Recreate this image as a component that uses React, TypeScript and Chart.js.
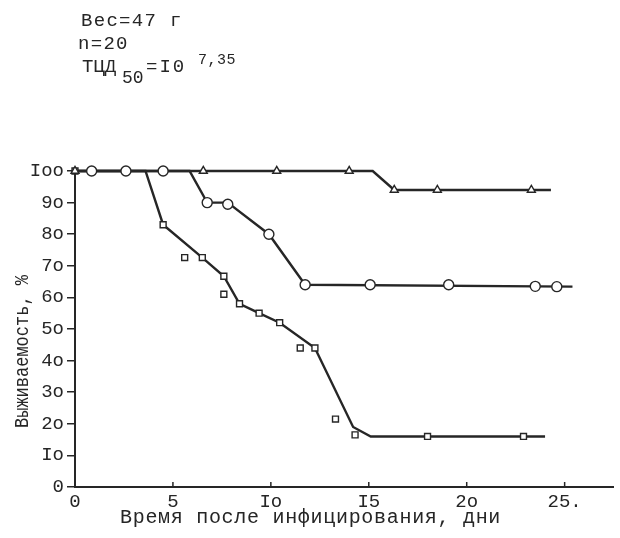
import React, { useEffect, useRef } from "react";
import { Chart, registerables } from "chart.js";
Chart.register(...registerables);

// Fitted survival curves (line vertices): x = days, y = survival %
const triLineX = [0, 15.2, 16.3, 24.3];
const triLineY = [100, 100, 94, 94];
const circLineX = [0, 5.85, 6.75, 7.8, 9.9, 11.75, 25.4];
const circLineY = [100, 100, 90, 90, 80, 64, 63.4];
const sqLineX = [0, 3.6, 4.5, 6.5, 7.6, 8.4, 9.4, 10.45, 12.25, 14.2, 15.1, 24.0];
const sqLineY = [100, 100, 83, 72.6, 66.7, 58, 55, 52, 44, 19, 16, 16];

// Observed points (markers)
const triPtX = [0, 6.55, 10.3, 14.0, 16.3, 18.5, 23.3];
const triPtY = [100, 100, 100, 100, 94, 94, 94];
const circPtX = [0.85, 2.6, 4.5, 6.75, 7.8, 9.9, 11.75, 15.07, 19.08, 23.5, 24.6];
const circPtY = [100, 100, 100, 90, 89.5, 80, 64, 64, 64, 63.5, 63.4];
const sqPtX = [0, 2.6, 4.5, 5.6, 6.5, 7.6, 7.6, 8.4, 9.4, 10.45, 11.5, 12.25, 13.3, 14.3, 18.0, 22.9];
const sqPtY = [100, 100, 83, 72.6, 72.6, 66.7, 61, 58, 55, 52, 44, 44, 21.5, 16.5, 16, 16];

const xTicks = [0, 5, 10, 15, 20, 25];
const xTickLabels = ["0", "5", "Io", "I5", "2o", "25."];
const yTicks = [0, 10, 20, 30, 40, 50, 60, 70, 80, 90, 100];
const yTickLabels = ["0", "Io", "2o", "3o", "4o", "5o", "6o", "7o", "8o", "9o", "Ioo"];

const xTitle = "Время после инфицирования, дни";
const yTitle = "Выживаемость, %";

const INK = "#262626";
const MONO = '"Liberation Mono", "DejaVu Sans Mono", monospace';

const pts = (xs: number[], ys: number[]) => xs.map((x, i) => ({ x, y: ys[i] }));

const textPlugin = {
  id: "texts",
  beforeDraw(chart: any) {
    const ctx = chart.ctx;
    ctx.save();
    ctx.fillStyle = "#ffffff";
    ctx.fillRect(0, 0, chart.width, chart.height);
    ctx.restore();
  },
  afterDraw(chart: any) {
    const ctx = chart.ctx as CanvasRenderingContext2D;
    const xs = chart.scales.x;
    const area = chart.chartArea;
    ctx.save();
    // x tick marks (inside, above axis)
    ctx.strokeStyle = INK;
    ctx.lineWidth = 1.5;
    xTicks.forEach((v) => {
      if (v === 0) return;
      const px = xs.getPixelForValue(v);
      ctx.beginPath();
      ctx.moveTo(px, area.bottom - 5);
      ctx.lineTo(px, area.bottom + 1);
      ctx.stroke();
    });

    ctx.fillStyle = INK;
    ctx.textAlign = "left";
    ctx.textBaseline = "alphabetic";
    (ctx as any).letterSpacing = "1.3px";
    ctx.font = `19px ${MONO}`;
    ctx.fillText("Вес=47 г", 81, 26);
    ctx.fillText("n=20", 78, 49);
    (ctx as any).letterSpacing = "0px";
    ctx.fillText("ТЦД", 82, 72);
    ctx.font = `18px ${MONO}`;
    ctx.fillText("50", 122, 83);
    ctx.font = `19px ${MONO}`;
    (ctx as any).letterSpacing = "2px";
    ctx.fillText("=I0", 146, 72);
    (ctx as any).letterSpacing = "0.5px";
    ctx.font = `15px ${MONO}`;
    ctx.fillText("7,35", 198, 64);

    // x title
    ctx.font = `20px ${MONO}`;
    (ctx as any).letterSpacing = "0.7px";
    ctx.fillText(xTitle, 120, 523);

    // y title
    (ctx as any).letterSpacing = "0px";
    ctx.save();
    ctx.translate(28, 428);
    ctx.rotate(-Math.PI / 2);
    ctx.scale(0.85, 1);
    ctx.font = `20px ${MONO}`;
    ctx.fillText(yTitle, 0, 0);
    ctx.restore();
    ctx.restore();
  },
};

export default function App() {
  const ref = useRef<HTMLCanvasElement | null>(null);
  useEffect(() => {
    document.body.style.margin = "0";
    const canvas = ref.current!;
    const lineDs = (data: any) => ({
      type: "line",
      data,
      borderColor: INK,
      borderWidth: 2.4,
      pointRadius: 0,
      tension: 0,
      fill: false,
      clip: false,
      order: 2,
    });
    const markDs = (data: any, style: string, r: number) => ({
      type: "line",
      data,
      showLine: false,
      pointStyle: style,
      pointRadius: r,
      pointBorderWidth: 1.4,
      pointBorderColor: INK,
      pointBackgroundColor: "#ffffff",
      clip: false,
      order: 0,
    });
    const chart = new Chart(canvas, {
      type: "line",
      data: {
        datasets: [
          lineDs(pts(triLineX, triLineY)),
          lineDs(pts(circLineX, circLineY)),
          lineDs(pts(sqLineX, sqLineY)),
          markDs(pts(triPtX, triPtY), "triangle", 4.6),
          markDs(pts(circPtX, circPtY), "circle", 5),
          markDs(pts(sqPtX, sqPtY), "rect", 4.2),
        ] as any,
      },
      options: {
        animation: false,
        responsive: false,
        devicePixelRatio: 1,
        layout: { padding: { top: 171, right: 3, left: 0, bottom: 0 } },
        plugins: { legend: { display: false }, tooltip: { enabled: false } },
        scales: {
          x: {
            type: "linear",
            min: 0,
            max: 27.5,
            afterBuildTicks: (s: any) => {
              s.ticks = xTicks.map((v) => ({ value: v }));
            },
            afterFit: (s: any) => {
              s.height = 51;
            },
            grid: { display: false, drawTicks: false },
            border: { display: true, color: INK, width: 2 },
            ticks: {
              padding: 4,
              color: INK,
              font: { family: MONO, size: 19 },
              callback: (v: any) => {
                const i = xTicks.indexOf(Number(v));
                return i >= 0 ? xTickLabels[i] : "";
              },
            },
          },
          y: {
            type: "linear",
            min: 0,
            max: 100,
            afterBuildTicks: (s: any) => {
              s.ticks = yTicks.map((v) => ({ value: v }));
            },
            afterFit: (s: any) => {
              s.width = 75;
            },
            grid: {
              display: true,
              drawOnChartArea: false,
              drawTicks: true,
              tickLength: 8,
              color: INK,
              lineWidth: 1.5,
            },
            border: { display: true, color: INK, width: 2 },
            ticks: {
              padding: 3,
              color: INK,
              font: { family: MONO, size: 19 },
              callback: (v: any) => {
                const i = yTicks.indexOf(Number(v));
                return i >= 0 ? yTickLabels[i] : "";
              },
            },
          },
        },
      },
      plugins: [textPlugin],
    });
    return () => chart.destroy();
  }, []);
  return <canvas ref={ref} width={620} height={538} style={{ display: "block" }} />;
}
